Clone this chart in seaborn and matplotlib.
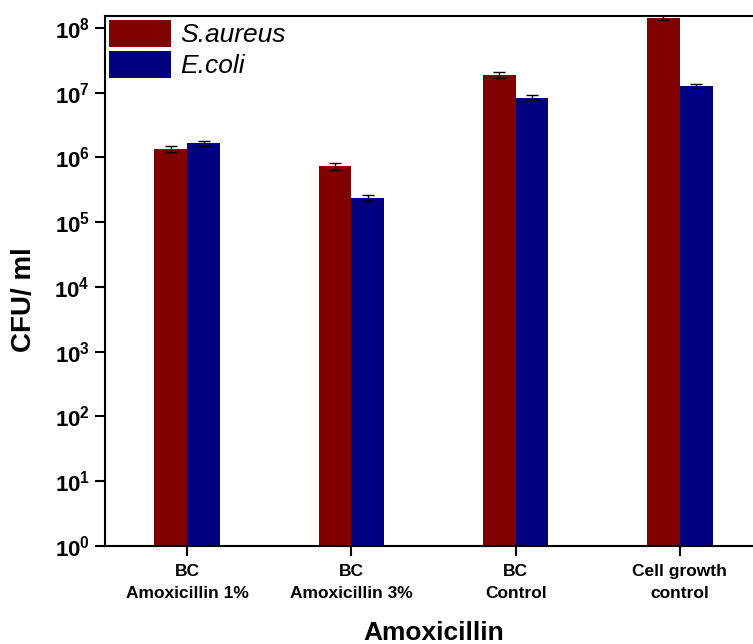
import matplotlib
matplotlib.use("Agg")
import matplotlib.pyplot as plt
import seaborn as sns
import pandas as pd
import numpy as np
from matplotlib.ticker import FixedLocator, FixedFormatter, NullLocator

categories = ["BC\nAmoxicillin 1%", "BC\nAmoxicillin 3%", "BC\nControl", "Cell growth\ncontrol"]
organisms = ["S.aureus", "E.coli"]
s_aureus = [1.35e6, 7.3e5, 1.89e7, 1.45e8]
s_aureus_err = [1.3e5, 8.0e4, 1.9e6, 1.4e7]
e_coli = [1.66e6, 2.4e5, 8.4e6, 1.25e7]
e_coli_err = [1.5e5, 2.4e4, 8.0e5, 1.2e6]
colors = ["#800000", "#000080"]

sns.set_style("ticks")
plt.rcParams["font.family"] = ["Liberation Sans", "DejaVu Sans"]
plt.rcParams["font.weight"] = "bold"
plt.rcParams["text.color"] = "black"
plt.rcParams["axes.labelcolor"] = "black"
plt.rcParams["xtick.color"] = "black"
plt.rcParams["ytick.color"] = "black"
plt.rcParams["mathtext.fontset"] = "custom"
plt.rcParams["mathtext.bf"] = "Liberation Sans:bold"
plt.rcParams["mathtext.rm"] = "Liberation Sans:bold"

df = pd.DataFrame({
    "category": categories * 2,
    "organism": [organisms[0]] * 4 + [organisms[1]] * 4,
    "cfu": s_aureus + e_coli,
})
errs = [s_aureus_err, e_coli_err]
vals = [s_aureus, e_coli]

fig = plt.figure(figsize=(7.53, 6.44), dpi=100)
ax = fig.add_axes([105 / 753, (644 - 546) / 644, 657 / 753, 530 / 644])

sns.barplot(data=df, x="category", y="cfu", hue="organism", palette=colors,
            width=0.4, errorbar=None, saturation=1, ax=ax, linewidth=0)

for cont, v, e in zip(ax.containers, vals, errs):
    xs = [p.get_x() + p.get_width() / 2 for p in cont.patches]
    ax.errorbar(xs, v, yerr=e, fmt="none", ecolor="black", elinewidth=1.0,
                capsize=4.5, capthick=1.0)

ax.set_yscale("log")
ax.set_ylim(1, 1.53e8)
ax.set_xlim(-0.5, 3.5)
ticks = [10.0 ** k for k in range(9)]
ax.yaxis.set_major_locator(FixedLocator(ticks))
ax.yaxis.set_major_formatter(FixedFormatter([r"$\mathbf{10^{%d}}$" % k for k in range(9)]))
ax.yaxis.set_minor_locator(NullLocator())

for s in ax.spines.values():
    s.set_linewidth(1.5)
    s.set_color("black")
ax.spines["right"].set_visible(False)

ax.tick_params(axis="y", direction="out", length=7, width=1.5, labelsize=16, pad=4, colors="black")
ax.tick_params(axis="x", direction="out", length=7, width=1.5, labelsize=12.5, pad=6, colors="black")
for lab in ax.get_xticklabels():
    lab.set_fontweight("bold")
    lab.set_multialignment("center")
    lab.set_linespacing(1.55)

ax.set_ylabel("CFU/ ml", fontsize=20, fontweight="bold")
ax.yaxis.set_label_coords(-0.103, 0.464)
ax.set_xlabel("Amoxicillin", fontsize=19, fontweight="bold", labelpad=15)

handles, labels = ax.get_legend_handles_labels()
ax.legend(handles, labels, loc="upper left", bbox_to_anchor=(0, 1), borderaxespad=0.1,
          frameon=False, prop={"family": "Liberation Sans", "style": "italic", "weight": "normal", "size": 19},
          handlelength=2.35, handleheight=1.2, labelspacing=0.12, handletextpad=0.35, borderpad=0.05)

fig.savefig("out.png", dpi=100)
